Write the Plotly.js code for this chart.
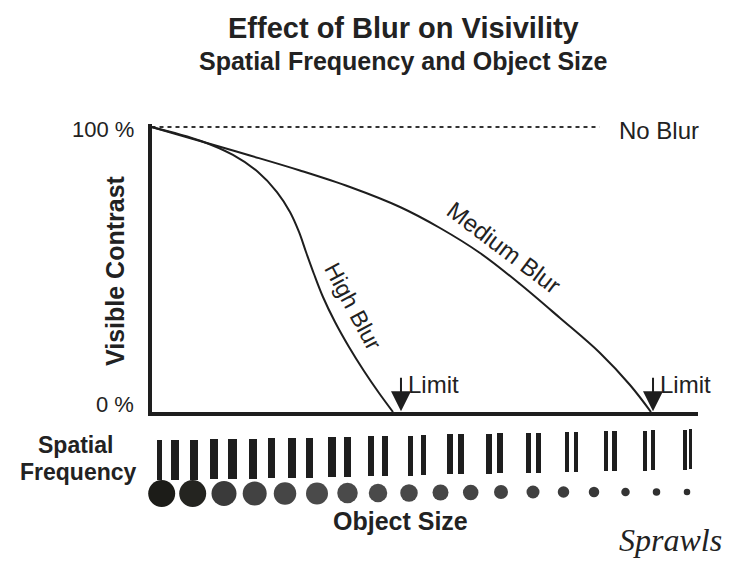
<!DOCTYPE html>
<html>
<head>
<meta charset="utf-8">
<script src="https://cdn.plot.ly/plotly-3.0.1.min.js"></script>
<style>html,body{margin:0;padding:0;background:#fff;}#chart{width:731px;height:561px;}</style>
</head>
<body>
<div id="chart"></div>
<script>
// ---- Main chart data (x: spatial frequency, arbitrary 0-100; y: visible contrast %) ----
const highBlurX = [0, 9.06, 14.91, 19.49, 22.96, 25.34, 26.99, 28.27, 29.73, 31.38, 33.58, 36.14, 38.88, 41.63, 44.19];
const highBlurY = [100, 95.09, 90.18, 84.21, 77.19, 70.18, 63.16, 56.14, 48.42, 40.35, 31.58, 22.81, 14.39, 6.67, 0];
const mediumBlurX = [0, 8.87, 18.02, 27.17, 36.32, 45.47, 52.79, 60.11, 67.43, 74.75, 82.07, 87.56, 91.40];
const mediumBlurY = [100, 95.09, 90.00, 84.74, 78.95, 71.93, 64.56, 55.79, 44.91, 32.98, 20.70, 9.47, 0];
const noBlurX = [0, 82];
const noBlurY = [100, 100];
const limitX = [45.65, 91.77];
const yTickLabels = ['100 %', '0 %'];

// ---- Lower strip: line-pair bars (spatial frequency) and dots (object size), in strip pixel units ----
const barX = [159.5,175.2,194.2,214.2,232.5,253.3,271.3,292.2,309.2,332,347.3,371,385.3,410.5,423.5,449.7,461.3,488.8,499.7,528.5,538.5,567.2,576.2,606.2,614.5,645.3,653,685,690.8];
const barW = [5.7,8.3,8.3,8.3,8.3,8,7.3,7.7,7,7.3,6.7,6.7,6,5.7,5,6,6,5.7,6,5,5,4.3,4.3,4.3,4.3,4,4,3.3,3];
const barTop = [440,440,439.5,439,439,438.5,438,438,437.5,437,437,436,436,435.5,435,434,434,433.5,433,432.5,432.5,432,432,431,431,430.5,430,429.5,429];
const barLen = [40,40,40,40,40,40,40,40,40,40,40,40,40,40,40,40,40,40,40,40,40,40,40,40,40,40,40,40,40];
const dotX = [161.7,192.7,224,254.7,285,317,347.5,378,409,440.5,470.7,501,533,563.5,594,625.5,656.5,687];
const dotY = [493.5,493.5,493.5,493.5,493.5,493.5,493,493,493,492.5,492.5,492,492,492,492,492,492,492];
const dotD = [27,27,25,24,22.5,22,20.5,18.5,17.5,16,15.5,14,13,11.5,10.5,8.5,7.5,6.5];
const dotColor = ['#1c1c18','#242420','#3a3a3a','#424242','#464646','#4a4a4a','#4a4a4a','#4a4a4a','#484848','#464646','#444444','#424242','#404040','#3c3c3c','#383838','#343434','#303030','#2e2e2e'];

const FONT = '"Liberation Sans", Arial, Helvetica, sans-serif';
const INK = '#1e1e1e';
const W = 731, H = 561;

// main plot area in pixels
const left = 151.5, right = 698, top100 = 127, bottom = 412;
const yMax = 101;
const plotH = (bottom - top100) * yMax / 100;
const topPx = bottom - plotH;

const traces = [
  {x: noBlurX, y: noBlurY, mode: 'lines', line: {color: '#333', width: 2, dash: '4px,4px'}, hoverinfo: 'skip', xaxis: 'x', yaxis: 'y'},
  {x: mediumBlurX, y: mediumBlurY, mode: 'lines', line: {color: INK, width: 2, shape: 'spline', smoothing: 1}, hoverinfo: 'skip', xaxis: 'x', yaxis: 'y'},
  {x: highBlurX, y: highBlurY, mode: 'lines', line: {color: INK, width: 2, shape: 'spline', smoothing: 1}, hoverinfo: 'skip', xaxis: 'x', yaxis: 'y'},
  {type: 'bar', x: barX, y: barLen, base: barTop, width: barW, marker: {color: INK, opacity: 1, line: {width: 0}}, xaxis: 'x2', yaxis: 'y2', hoverinfo: 'skip'},
  {x: dotX, y: dotY, mode: 'markers', marker: {size: dotD, color: dotColor, opacity: 1, line: {width: 0}}, xaxis: 'x2', yaxis: 'y2', hoverinfo: 'skip', cliponaxis: false}
];

function txt(x, y, text, size, opts) {
  return Object.assign({xref: 'x2', yref: 'y2', x: x, y: y, text: text, showarrow: false,
    font: {family: FONT, size: size, color: '#222'}, xanchor: 'center', yanchor: 'middle'}, opts || {});
}

const annotations = [
  txt(403, 28, '<b>Effect of Blur on Visivility</b>', 29),
  txt(403, 61, '<b>Spatial Frequency and Object Size</b>', 25),
  txt(136, 129, yTickLabels[0], 22, {xanchor: 'right'}),
  txt(136, 404, yTickLabels[1], 22, {xanchor: 'right'}),
  txt(115, 271, '<b>Visible Contrast</b>', 25, {textangle: -90}),
  txt(617, 130, 'No Blur', 24, {xanchor: 'left'}),
  txt(504, 247, 'Medium Blur', 24, {textangle: 37}),
  txt(353, 306, 'High Blur', 23, {textangle: 62}),
  txt(75, 445, '<b>Spatial</b>', 23),
  txt(78, 472, '<b>Frequency</b>', 23),
  txt(400, 521, '<b>Object Size</b>', 25),
  txt(670, 540, '<i>Sprawls</i>', 32, {font: {family: '"Liberation Serif", "DejaVu Serif", serif', size: 32, color: '#222'}})
];
limitX.forEach(function (lx) {
  annotations.push({xref: 'x', yref: 'y', x: lx, y: 0.3, ax: 0, ay: -35, axref: 'pixel', ayref: 'pixel',
    showarrow: true, arrowhead: 2, arrowsize: 2.0, arrowwidth: 2, arrowcolor: INK, text: '', standoff: 0});
});
annotations.push(txt(406, 384, 'Limit', 24, {xanchor: 'left'}));
annotations.push(txt(658, 384, 'Limit', 24, {xanchor: 'left'}));

const layout = {
  width: W, height: H,
  margin: {l: 0, r: 0, t: 0, b: 0, pad: 0},
  paper_bgcolor: '#fff', plot_bgcolor: 'rgba(0,0,0,0)',
  showlegend: false,
  xaxis: {domain: [left / W, right / W], range: [0, 100], showgrid: false, zeroline: false, showticklabels: false, ticks: '',
          showline: true, linecolor: INK, linewidth: 4, anchor: 'y', fixedrange: true},
  yaxis: {domain: [(H - bottom) / H, (H - topPx) / H], range: [0, yMax], showgrid: false, zeroline: false, showticklabels: false, ticks: '',
          showline: true, linecolor: INK, linewidth: 3.5, anchor: 'x', fixedrange: true},
  xaxis2: {domain: [0, 1], range: [0, W], visible: false, anchor: 'y2', fixedrange: true},
  yaxis2: {domain: [0, 1], range: [H, 0], visible: false, anchor: 'x2', fixedrange: true},
  annotations: annotations,
  bargap: 0
};

Plotly.newPlot('chart', traces, layout, {staticPlot: true, displayModeBar: false});
</script>
</body>
</html>
